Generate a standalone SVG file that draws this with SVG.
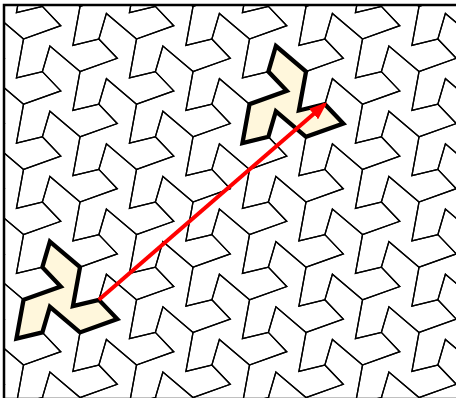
<svg xmlns="http://www.w3.org/2000/svg" xmlns:xlink="http://www.w3.org/1999/xlink" width="456" height="398" viewBox="0 0 456 398">
<style>
.thin{fill:none;stroke:#000;stroke-width:1.3;stroke-linejoin:miter}
.hl{fill:#fff7dc;stroke:#000;stroke-width:4.3;stroke-linejoin:miter;stroke-miterlimit:6}
.arrow{fill:none;stroke:#ff0000;stroke-width:4}
</style>
<defs>
<path id="t" d="M-11.3,-58.2 L18.83,-32.62 L11.71,6.29 L37.67,0 L56.05,19.31 L18.83,32.62 L-11.3,7.04 L-18.83,32.62 L-44.75,38.89 L-37.67,0 L-0.45,-13.31 L-18.83,-32.62 Z"/>
<g id="colE">
<use xlink:href="#t" href="#t" y="-26.2"/>
<use xlink:href="#t" href="#t" y="39"/>
<use xlink:href="#t" href="#t" y="104.2"/>
<use xlink:href="#t" href="#t" y="169.4"/>
<use xlink:href="#t" href="#t" y="234.6"/>
<use xlink:href="#t" href="#t" y="299.8"/>
<use xlink:href="#t" href="#t" y="365"/>
<use xlink:href="#t" href="#t" y="430.2"/>
</g>
<g id="colO">
<use xlink:href="#t" href="#t" y="6.4"/>
<use xlink:href="#t" href="#t" y="71.6"/>
<use xlink:href="#t" href="#t" y="136.8"/>
<use xlink:href="#t" href="#t" y="202"/>
<use xlink:href="#t" href="#t" y="267.2"/>
<use xlink:href="#t" href="#t" y="332.4"/>
<use xlink:href="#t" href="#t" y="397.6"/>
</g>
<clipPath id="frame"><rect x="4" y="5" width="460" height="400"/></clipPath>
<marker id="head" viewBox="0 0 18 14" refX="15" refY="7" markerWidth="18" markerHeight="14" markerUnits="userSpaceOnUse" orient="auto">
<path d="M0,0 L18,7 L0,14 Z" fill="#ff0000"/>
</marker>
</defs>
<rect width="456" height="398" fill="#fff"/>
<g id="tiling" class="thin" clip-path="url(#frame)">
<use xlink:href="#colE" href="#colE" x="-51.8"/>
<use xlink:href="#colE" href="#colE" x="61.2"/>
<use xlink:href="#colE" href="#colE" x="174.2"/>
<use xlink:href="#colE" href="#colE" x="287.2"/>
<use xlink:href="#colE" href="#colE" x="400.2"/>
<use xlink:href="#colO" href="#colO" x="4.7"/>
<use xlink:href="#colO" href="#colO" x="117.7"/>
<use xlink:href="#colO" href="#colO" x="230.7"/>
<use xlink:href="#colO" href="#colO" x="343.7"/>
<use xlink:href="#colO" href="#colO" x="456.7"/>
</g>
<g id="tile1"><use xlink:href="#t" href="#t" class="hl" x="61.2" y="299.8"/></g>
<g id="tile2"><use xlink:href="#t" href="#t" class="hl" x="287.2" y="104.2"/></g>
<g id="connectors">
<line class="arrow" x1="98.87" y1="299.8" x2="324.87" y2="104.2" marker-end="url(#head)"/>
</g>
<rect id="border" x="4" y="5" width="454" height="394" fill="none" stroke="#000" stroke-width="2.5"/>
</svg>
